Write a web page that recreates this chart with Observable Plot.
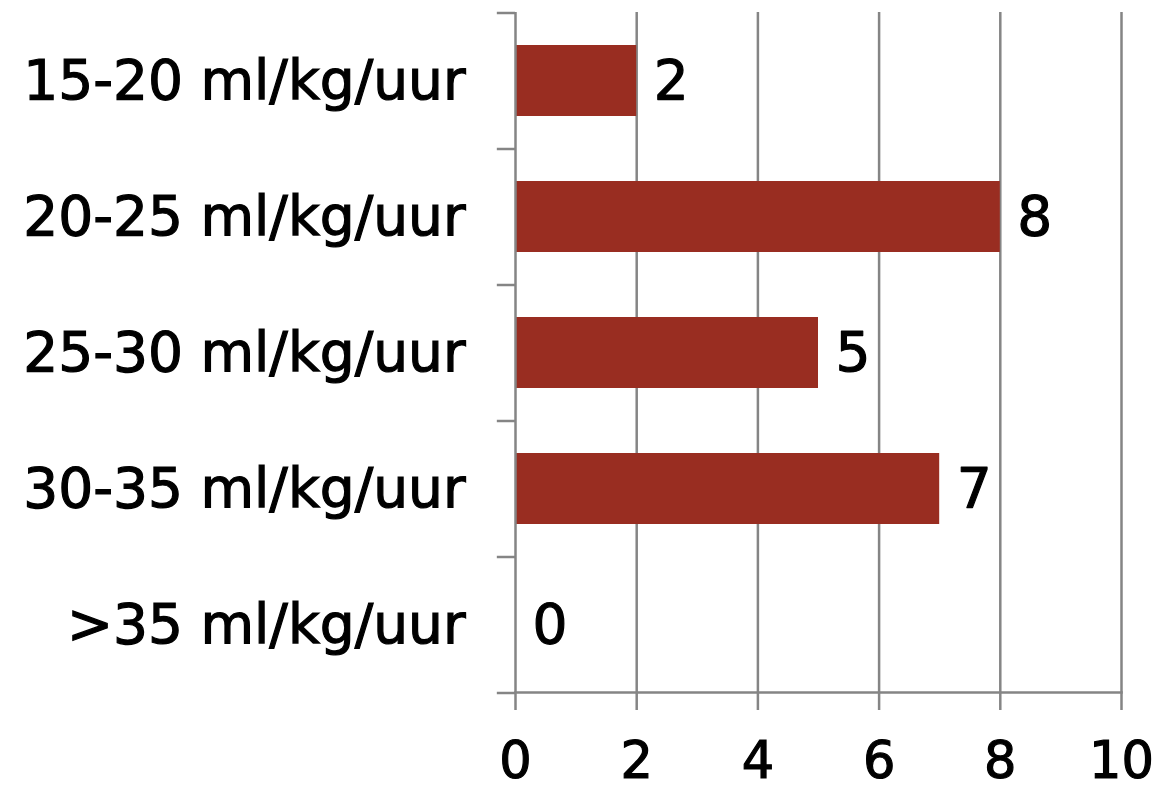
<!DOCTYPE html>
<html>
<head>
<meta charset="utf-8">
<script src="https://cdn.jsdelivr.net/npm/d3@7"></script>
<script src="https://cdn.jsdelivr.net/npm/@observablehq/plot@0.6"></script>
<style>
  html, body { margin: 0; padding: 0; background: #fff; }
  svg { display: block; }
</style>
</head>
<body>
<div id="chart"></div>
<script>
const categories = ["15-20 ml/kg/uur", "20-25 ml/kg/uur", "25-30 ml/kg/uur", "30-35 ml/kg/uur", ">35 ml/kg/uur"];
const values = [2, 8, 5, 7, 0];
const xTicks = [0, 2, 4, 6, 8, 10];

const data = categories.map((c, i) => ({category: c, value: values[i]}));

const gray = "#858585";
const barColor = "#992d21";
const font = "DejaVu Sans, Verdana, sans-serif";

const W = 1154, H = 792;
const mTop = 12, mBottom = 100, mLeft = 515, mRight = 33;
const step = (H - mTop - mBottom) / categories.length;

function thicken(index, scales, values, dimensions, context, next) {
  const g = next(index, scales, values, dimensions, context);
  g.querySelectorAll("text").forEach(t => { t.setAttribute("stroke", "#000"); t.setAttribute("stroke-width", "1.2"); });
  return g;
}

const chart = Plot.plot({
  width: W,
  height: H,
  marginTop: mTop,
  marginBottom: mBottom,
  marginLeft: mLeft,
  marginRight: mRight,
  style: {fontFamily: font, background: "#fff", overflow: "visible"},
  x: {domain: [0, 10], ticks: xTicks},
  y: {domain: categories, paddingInner: 0.48, paddingOuter: 0.24},
  marks: [
    Plot.ruleX(xTicks.slice(1), {stroke: gray, strokeWidth: 2.5}),
    Plot.barX(data, {x: "value", y: "category", fill: barColor}),
    Plot.ruleX([0], {stroke: gray, strokeWidth: 2.5}),
    Plot.frame({anchor: "bottom", stroke: gray, strokeWidth: 2.5}),
    Plot.ruleY(categories, {y: d => d, x1: -0.3, x2: 0, dy: -step / 2, stroke: gray, strokeWidth: 2.5, clip: false}),
    Plot.ruleY(categories.slice(-1), {y: d => d, x1: -0.3, x2: 0, dy: step / 2, stroke: gray, strokeWidth: 2.5, clip: false}),
    Plot.axisX({
      ticks: xTicks,
      tickSize: 18,
      tickPadding: 31,
      stroke: gray,
      strokeWidth: 2.5,
      fill: "#000",
      fontSize: 51,
      label: null,
      render: thicken
    }),
    Plot.axisY({
      tickSize: 0,
      tickPadding: 50,
      fill: "#000",
      fontSize: 55,
      label: null,
      render: thicken
    }),
    Plot.text(data, {x: "value", y: "category", text: d => String(d.value), dx: 17, textAnchor: "start", fontSize: 55, fill: "#000", stroke: "#000", strokeWidth: 1.2})
  ]
});

document.getElementById("chart").appendChild(chart);
</script>
</body>
</html>
